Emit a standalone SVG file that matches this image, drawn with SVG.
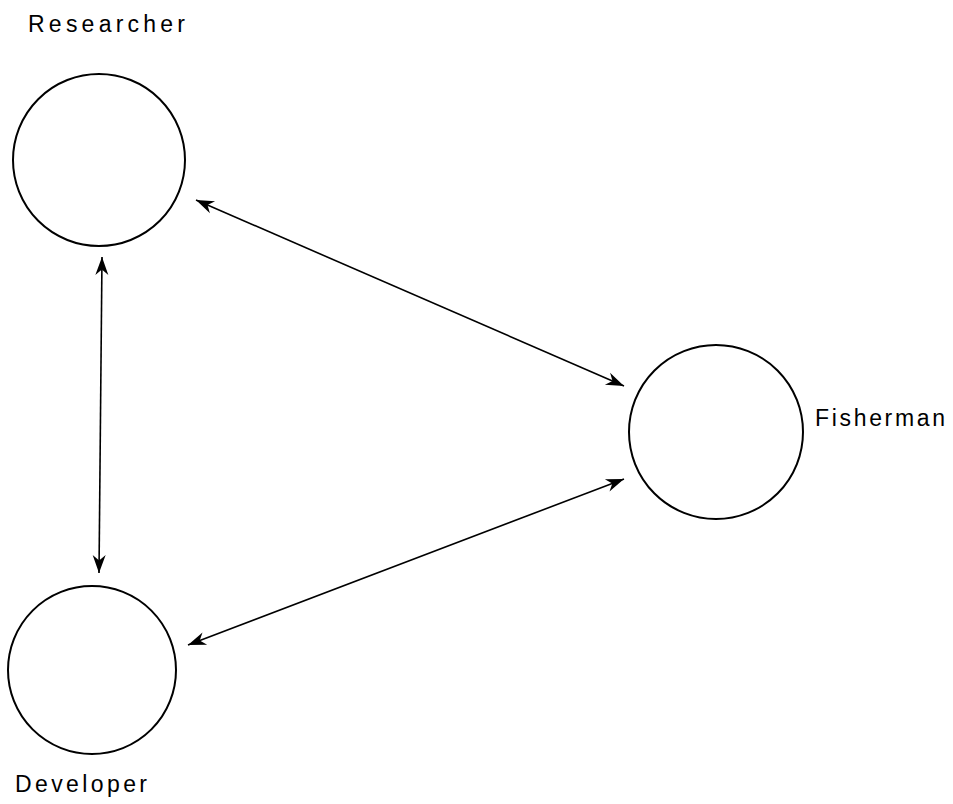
<svg xmlns="http://www.w3.org/2000/svg" width="953" height="804" viewBox="0 0 953 804">
  <style>
    .node { fill: none; stroke: #000; stroke-width: 2; }
    .label { font-family: "Liberation Sans", Arial, sans-serif; font-size: 23px; fill: #000; }
    .link { fill: none; stroke: #000; stroke-width: 1.6; marker-start: url(#head); marker-end: url(#head); }
  </style>
  <defs>
    <marker id="head" viewBox="-19 -8 20 16" refX="0" refY="0" markerWidth="20" markerHeight="16" markerUnits="userSpaceOnUse" orient="auto-start-reverse">
      <path d="M0,0 L-18,-6.5 L-12.5,0 L-18,6.5 Z" fill="#000"/>
    </marker>
  </defs>
  <rect width="953" height="804" fill="#fff"/>

  <g id="connectors">
    <line class="link" x1="196" y1="200" x2="624" y2="386"/>
    <line class="link" x1="102" y1="257" x2="99" y2="573"/>
    <line class="link" x1="188" y1="645" x2="624" y2="479"/>
  </g>

  <g id="researcher">
    <circle class="node" cx="99" cy="160" r="86"/>
    <text class="label" x="28" y="32" textLength="157" lengthAdjust="spacing">Researcher</text>
  </g>

  <g id="fisherman">
    <circle class="node" cx="716" cy="432" r="87"/>
    <text class="label" x="815" y="426" textLength="130" lengthAdjust="spacing">Fisherman</text>
  </g>

  <g id="developer">
    <circle class="node" cx="92" cy="670" r="84"/>
    <text class="label" x="15" y="792" textLength="132" lengthAdjust="spacing">Developer</text>
  </g>
</svg>
